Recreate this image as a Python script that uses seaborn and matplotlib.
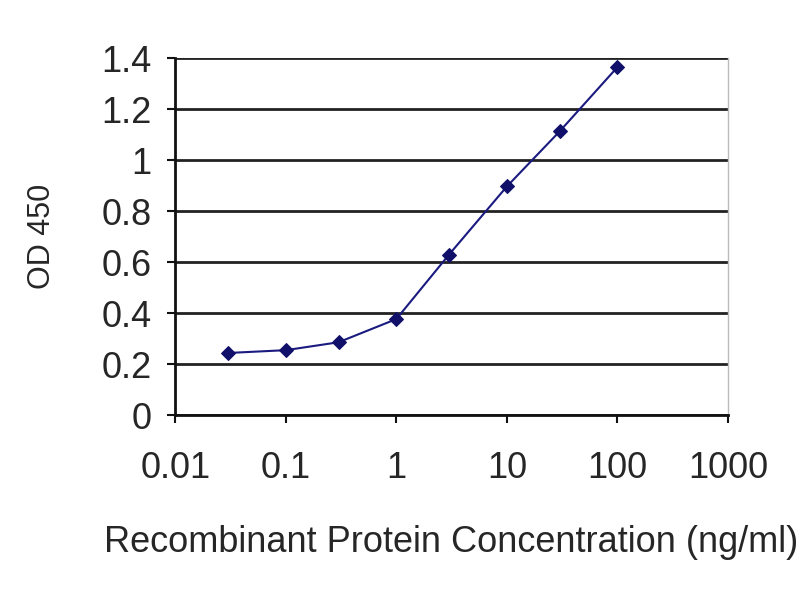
import matplotlib
matplotlib.use('Agg')
import matplotlib.pyplot as plt
import seaborn as sns
import pandas as pd

# concentracao (ng/ml) e leitura OD 450
concentracao = [0.03, 0.1, 0.3, 1, 3, 10, 30, 100]
od450 = [0.244, 0.255, 0.286, 0.377, 0.63, 0.897, 1.113, 1.365]
x_ticks = [0.01, 0.1, 1, 10, 100, 1000]
x_tick_labels = ['0.01', '0.1', '1', '10', '100', '1000']
y_ticks = [0, 0.2, 0.4, 0.6, 0.8, 1.0, 1.2, 1.4]
y_tick_labels = ['0', '0.2', '0.4', '0.6', '0.8', '1', '1.2', '1.4']

df = pd.DataFrame({'conc': concentracao, 'od': od450})

sns.set_style('white')
plt.rcParams['font.family'] = ['Liberation Sans', 'DejaVu Sans']

fig = plt.figure(figsize=(8, 6), dpi=100)
ax = fig.add_axes([0.219, 0.308, 0.691, 0.595])

sns.lineplot(data=df, x='conc', y='od', ax=ax, color='#1a1a80', linewidth=1.5,
             marker='D', markersize=7, markeredgecolor='#10106a',
             markerfacecolor='#10106a', zorder=3)

ax.set_xscale('log')
ax.set_xlim(0.01, 1000)
ax.set_ylim(0, 1.4)
ax.set_xticks(x_ticks)
ax.set_xticklabels(x_tick_labels)
ax.minorticks_off()
ax.set_yticks(y_ticks)
ax.set_yticklabels(y_tick_labels)

ax.yaxis.grid(True, color='#222222', linewidth=2)
ax.set_axisbelow(True)

for lado in ['left', 'bottom']:
    ax.spines[lado].set_color('#111111')
    ax.spines[lado].set_linewidth(2)
ax.spines['top'].set_visible(False)
ax.spines['right'].set_color('#bbbbbb')
ax.spines['right'].set_linewidth(1)

ax.tick_params(axis='both', which='major', direction='out', length=6, width=1.5,
               color='#111111', labelsize=26, left=True, bottom=True)
ax.tick_params(axis='x', pad=20)
ax.tick_params(axis='y', pad=11)

ax.set_xlabel('Recombinant Protein Concentration (ng/ml)', fontsize=26, labelpad=28)
ax.set_ylabel('OD 450', fontsize=22, labelpad=32)

fig.savefig('out.png', dpi=100)
